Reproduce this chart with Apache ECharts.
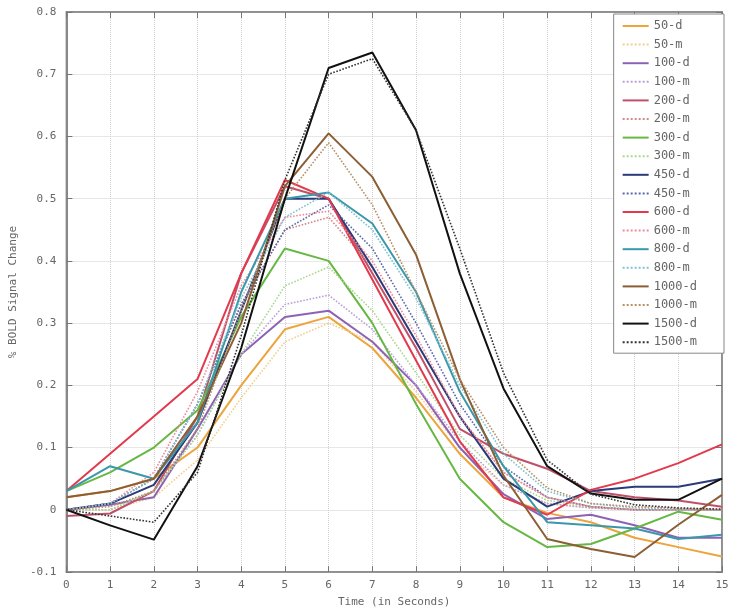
<!DOCTYPE html>
<html><head><meta charset="utf-8">
<script src="https://cdn.jsdelivr.net/npm/echarts@6/dist/echarts.min.js"></script>
<style>html,body{margin:0;padding:0;background:#fff}#c{width:733px;height:613px}</style>
</head><body><div id="c"></div>
<script>
const times = [0,1,2,3,4,5,6,7,8,9,10,11,12,13,14,15];
const yTicks = [-0.1,0,0.1,0.2,0.3,0.4,0.5,0.6,0.7,0.8];
const names = ['50-d','50-m','100-d','100-m','200-d','200-m','300-d','300-m','450-d','450-m','600-d','600-m','800-d','800-m','1000-d','1000-m','1500-d','1500-m'];

const s50d   = [0.02,0.03,0.05,0.10,0.20,0.29,0.31,0.26,0.18,0.09,0.02,-0.005,-0.02,-0.045,-0.06,-0.075];
const s50m   = [0,0,0.02,0.08,0.18,0.27,0.30,0.27,0.19,0.10,0.04,0.01,0.003,0,0,0];
const s100d  = [0.0,0.008,0.02,0.13,0.25,0.31,0.32,0.27,0.20,0.10,0.025,-0.015,-0.008,-0.025,-0.045,-0.045];
const s100m  = [0,0,0.03,0.12,0.25,0.33,0.345,0.29,0.20,0.11,0.04,0.01,0.003,0,0,0];
const s200d  = [-0.01,-0.006,0.03,0.15,0.38,0.52,0.50,0.38,0.26,0.13,0.09,0.066,0.03,0.02,0.015,0.005];
const s200m  = [0,0.01,0.05,0.17,0.33,0.45,0.47,0.39,0.27,0.15,0.06,0.02,0.005,0,0,0];
const s300d  = [0.03,0.06,0.10,0.16,0.31,0.42,0.40,0.30,0.17,0.05,-0.02,-0.06,-0.055,-0.03,-0.003,-0.016];
const s300m  = [0,0,0.03,0.12,0.25,0.36,0.39,0.32,0.22,0.12,0.05,0.015,0.005,0,0,0];
const s450d  = [0.0,0.01,0.04,0.14,0.32,0.50,0.50,0.39,0.27,0.15,0.05,0.005,0.03,0.037,0.037,0.05];
const s450m  = [0,0.01,0.05,0.17,0.33,0.45,0.49,0.42,0.30,0.17,0.07,0.02,0.005,0,0,0];
const s600d  = [0.03,0.09,0.15,0.21,0.38,0.53,0.50,0.37,0.24,0.11,0.02,-0.008,0.032,0.05,0.075,0.105];
const s600m  = [0,0.01,0.06,0.19,0.36,0.47,0.48,0.40,0.28,0.15,0.06,0.02,0.005,0,0,0];
const s800d  = [0.03,0.07,0.05,0.14,0.35,0.50,0.51,0.46,0.35,0.19,0.07,-0.02,-0.025,-0.03,-0.047,-0.04];
const s800m  = [0,0.01,0.05,0.17,0.34,0.47,0.51,0.45,0.34,0.20,0.09,0.03,0.01,0.003,0,0];
const s1000d = [0.02,0.03,0.05,0.15,0.30,0.52,0.605,0.535,0.41,0.21,0.055,-0.047,-0.063,-0.076,-0.024,0.024];
const s1000m = [0,0.005,0.03,0.13,0.32,0.50,0.59,0.49,0.35,0.21,0.10,0.035,0.01,0.005,0.002,0];
const s1500d = [0.0,-0.025,-0.048,0.07,0.26,0.50,0.71,0.735,0.61,0.38,0.195,0.07,0.026,0.016,0.016,0.05];
const s1500m = [0,-0.01,-0.02,0.06,0.28,0.53,0.70,0.725,0.61,0.42,0.22,0.08,0.025,0.008,0.003,0.001];

const dataList = [s50d,s50m,s100d,s100m,s200d,s200m,s300d,s300m,s450d,s450m,s600d,s600m,s800d,s800m,s1000d,s1000m,s1500d,s1500m];
const colors = ['#eda43c','#f3cf8e','#8d62b5','#b9a1d6','#c0506a','#cf8a8a','#66b843','#a8d890','#2b3a78','#5a6aa8','#e23a4c','#ee8a9a','#3a98aa','#7fc2cf','#8b5e34','#b98f66','#111111','#333333'];

const FONT = '"DejaVu Sans Mono", monospace';
const series = names.map((n,i)=>({
  name:n, type:'line', symbol:'none', showSymbol:false, animation:false,
  data: times.map((t,j)=>[t,dataList[i][j]]),
  lineStyle:{color:colors[i], width: n.endsWith('-d') ? 2 : 1.6, type: n.endsWith('-d') ? 'solid' : 'dotted'},
  itemStyle:{color:colors[i]}
}));

const chart = echarts.init(document.getElementById('c'));
chart.setOption({
  animation:false,
  backgroundColor:'#fff',
  grid:{left:62,right:11,top:12,bottom:41,show:true,borderColor:'#888',borderWidth:1.5},
  xAxis:[{type:'value',min:0,max:15,interval:1,
    axisLine:{onZero:false,lineStyle:{color:'#888',width:1.5}},
    axisTick:{inside:true,length:6,lineStyle:{color:'#777'}},
    axisLabel:{color:'#666',fontFamily:FONT,fontSize:11,margin:8},
    splitLine:{show:true,lineStyle:{color:'#cfcfcf',type:'dotted'}},
    name:'Time (in Seconds)',nameLocation:'middle',nameGap:25,
    nameTextStyle:{color:'#666',fontFamily:FONT,fontSize:11}},
   {type:'value',min:0,max:15,interval:1,position:'top',
    axisLine:{show:true,onZero:false,lineStyle:{color:'#888',width:1.5}},
    axisTick:{inside:true,length:6,lineStyle:{color:'#777'}},
    axisLabel:{show:false},splitLine:{show:false}}],
  yAxis:[{type:'value',min:-0.1,max:0.8,interval:0.1,
    axisLine:{show:true,onZero:false,lineStyle:{color:'#888',width:2}},
    axisTick:{show:true,inside:true,length:6,lineStyle:{color:'#777'}},
    axisLabel:{color:'#666',fontFamily:FONT,fontSize:11,margin:10,
      formatter:v=>{const r=Math.round(v*10)/10; return r===0?'0':r.toFixed(1);}},
    splitLine:{show:true,lineStyle:{color:'#cfcfcf',type:'dotted'}},
    name:'% BOLD Signal Change',nameLocation:'middle',nameGap:44,nameRotate:90,
    nameTextStyle:{color:'#666',fontFamily:FONT,fontSize:11}},
   {type:'value',min:-0.1,max:0.8,interval:0.1,position:'right',
    axisLine:{show:true,onZero:false,lineStyle:{color:'#888',width:1.5}},
    axisTick:{show:true,inside:true,length:6,lineStyle:{color:'#777'}},
    axisLabel:{show:false},splitLine:{show:false}}],
  legend:{orient:'vertical',right:9,top:14,
    backgroundColor:'#fff',borderColor:'#888',borderWidth:1,
    padding:[6,27,5,8],itemWidth:26,itemHeight:10,itemGap:6.6,
    itemStyle:{opacity:0},
    textStyle:{color:'#666',fontFamily:FONT,fontSize:12},
    data:names},
  series:series
});
</script></body></html>
